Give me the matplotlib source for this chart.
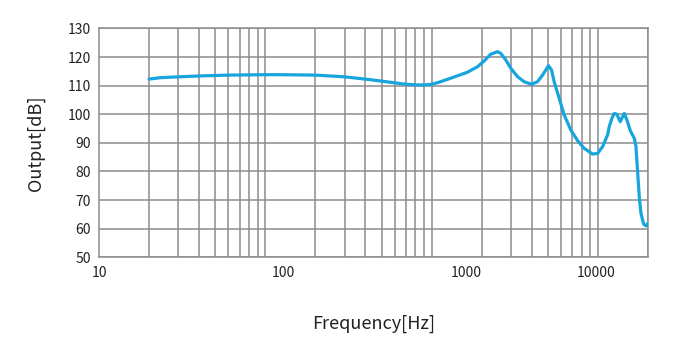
import matplotlib
matplotlib.use("Agg")
import matplotlib.pyplot as plt
from matplotlib.ticker import FixedLocator, NullFormatter

plt.rcParams['font.family'] = ['Noto Sans CJK SC', 'DejaVu Sans']

# Frequency response data
freq_hz = [20, 23.3, 30, 40, 60, 100, 123, 200, 300, 400, 500, 600, 700, 800,
           900, 1000, 1106, 1301, 1641, 1885, 2066, 2266, 2489, 2606, 2793,
           2992, 3282, 3597, 3987, 4335, 4645, 5047, 5262, 5456, 5848, 6266,
           6875, 7548, 8267, 9290, 9960, 10670, 11440, 11700, 12140, 12540,
           13010, 13630, 14090, 14400, 14950, 15650, 16550, 16940, 17350,
           17730, 18150, 18850, 19460, 20000]
output_db = [112.3, 112.8, 113.1, 113.4, 113.7, 113.85, 113.85, 113.7, 113.1,
             112.3, 111.6, 111.0, 110.5, 110.3, 110.25, 110.5, 111.2, 112.6,
             114.7, 116.6, 118.6, 121.0, 121.9, 121.3, 119.0, 116.1, 113.2,
             111.4, 110.5, 111.4, 113.7, 117.0, 115.5, 111.4, 105.6, 99.8,
             94.5, 90.8, 88.1, 86.1, 86.3, 88.7, 92.8, 95.7, 98.6, 100.3,
             100.0, 97.4, 99.2, 100.3, 98.0, 94.3, 91.6, 88.7, 79.4, 71.2,
             65.4, 61.6, 61.0, 61.9]

grid_freqs = [20, 30, 40, 50, 60, 70, 80, 90,
              100, 200, 300, 400, 500, 600, 700, 800, 900,
              1000, 2000, 3000, 4000, 5000, 6000, 7000, 8000, 9000,
              10000, 20000]
xtick_pos = [10, 128, 1626, 9730]
xtick_labels = ['10', '100', '1000', '10000']
yticks = [50, 60, 70, 80, 90, 100, 110, 120, 130]

fig = plt.figure(figsize=(6.83, 3.58), dpi=100)
ax = fig.add_axes([0.145, 0.2813, 0.8037, 0.6391])

ax.set_xscale('log')
ax.set_xlim(10, 20000)
ax.set_ylim(50, 130)

grid_color = '#8c8c8c'
ax.xaxis.set_minor_locator(FixedLocator(grid_freqs))
ax.xaxis.set_minor_formatter(NullFormatter())
ax.set_xticks(xtick_pos)
ax.set_xticklabels(xtick_labels)
ax.set_yticks(yticks)
ax.grid(False)
ax.grid(True, which='minor', axis='x', color=grid_color, linewidth=1.1)
ax.grid(True, which='major', axis='y', color=grid_color, linewidth=1.1)
ax.tick_params(axis='both', which='both', length=0, labelsize=10,
               colors='#222222')
ax.tick_params(axis='x', pad=6)
ax.tick_params(axis='y', pad=6)
for s in ax.spines.values():
    s.set_color(grid_color)
    s.set_linewidth(1.1)

ax.plot(freq_hz, output_db, color='#17a5dd', linewidth=2.3,
        solid_joinstyle='round', solid_capstyle='round', zorder=3)

ax.set_xlabel('Frequency[Hz]', fontsize=13, color='#222222', labelpad=25)
ax.set_ylabel('Output[dB]', fontsize=13, color='#222222', labelpad=16)

fig.savefig('out.png', dpi=100)
